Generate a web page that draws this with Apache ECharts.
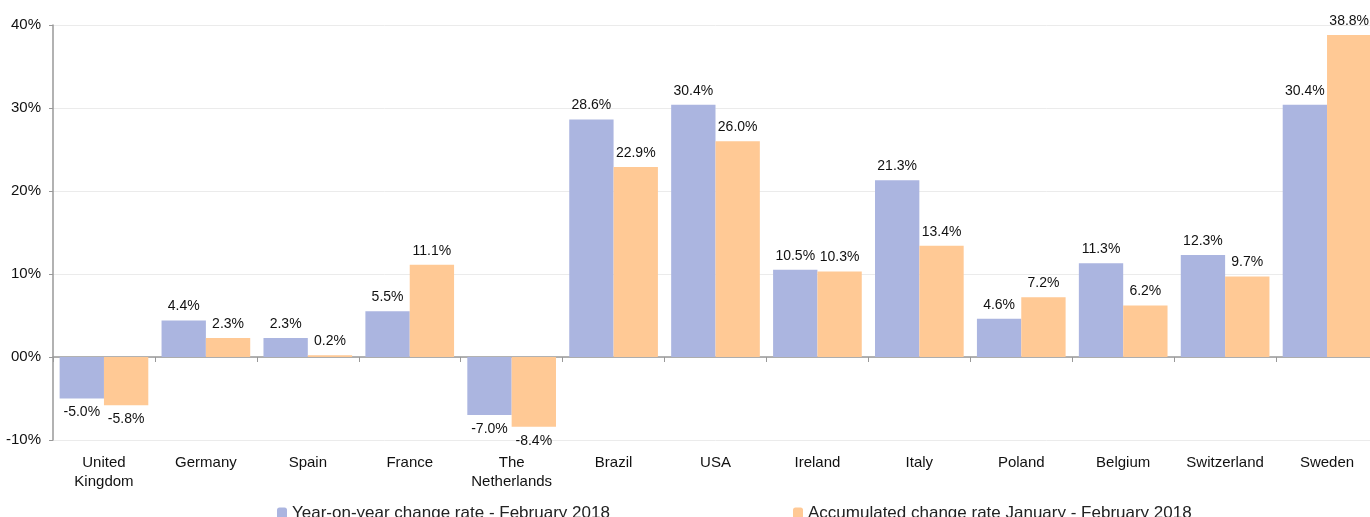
<!DOCTYPE html>
<html>
<head>
<meta charset="utf-8">
<script src="https://cdn.jsdelivr.net/npm/echarts@6/dist/echarts.min.js"></script>
<style>
html,body{margin:0;padding:0;background:#fff;overflow:hidden;}
#chart{width:1378px;height:517px;}
</style>
</head>
<body>
<div id="chart"></div>
<script>
var categories = ['United\nKingdom', 'Germany', 'Spain', 'France', 'The\nNetherlands', 'Brazil', 'USA', 'Ireland', 'Italy', 'Poland', 'Belgium', 'Switzerland', 'Sweden']
var yoyFeb = [-5.0, 4.4, 2.3, 5.5, -7.0, 28.6, 30.4, 10.5, 21.3, 4.6, 11.3, 12.3, 30.4]
var accJanFeb = [-5.8, 2.3, 0.2, 11.1, -8.4, 22.9, 26.0, 10.3, 13.4, 7.2, 6.2, 9.7, 38.8]
var yoyName = 'Year-on-year change rate - February 2018'
var accName = 'Accumulated change rate January - February 2018'

function withLabels(arr) {
    return arr.map(function (v) {
        return { value: v, label: { position: v < 0 ? 'bottom' : 'top' } }
    })
}

var chart = echarts.init(document.getElementById('chart'))
chart.setOption({
    animation: false,
    textStyle: { fontFamily: 'Liberation Sans, Arial, sans-serif' },
    grid: { left: 53, right: 0, top: 25, bottom: 77, containLabel: false },
    legend: [
        {
            data: [yoyName], left: 272, top: 500, itemWidth: 10, itemHeight: 12, itemGap: 0,
            textStyle: { fontSize: 17, color: '#222', padding: [0, 0, 0, 0] }
        },
        {
            data: [accName], left: 788, top: 500, itemWidth: 10, itemHeight: 12, itemGap: 0,
            textStyle: { fontSize: 17, color: '#222', padding: [0, 0, 0, 0] }
        }
    ],
    xAxis: [
        {
            type: 'category',
            data: categories,
            axisLine: { onZero: true, lineStyle: { color: '#999', width: 1.5 } },
            axisTick: { show: true, inside: false, length: 5, lineStyle: { color: '#999' } },
            axisLabel: { show: false }
        },
        {
            type: 'category',
            data: categories,
            position: 'bottom',
            axisLine: { show: false, onZero: false },
            axisTick: { show: false },
            axisLabel: { interval: 0, fontSize: 15, color: '#111', margin: 13, lineHeight: 19 }
        }
    ],
    yAxis: {
        type: 'value',
        min: -10, max: 40, interval: 10,
        axisLine: { show: true, lineStyle: { color: '#999', width: 1.5 } },
        axisTick: { show: true, length: 4, lineStyle: { color: '#999' } },
        splitLine: { lineStyle: { color: '#ebebeb' } },
        axisLabel: {
            fontSize: 15, color: '#111', margin: 12,
            formatter: function (v) { return v === 0 ? '00%' : v + '%' }
        }
    },
    series: [
        {
            name: yoyName, type: 'bar', xAxisIndex: 0,
            data: withLabels(yoyFeb),
            barGap: '0%', barCategoryGap: '13%',
            itemStyle: { color: '#abb5e0' },
            label: {
                show: true, fontSize: 14, color: '#111', distance: 7,
                formatter: function (p) { return p.value.toFixed(1) + '%' }
            }
        },
        {
            name: accName, type: 'bar', xAxisIndex: 0,
            data: withLabels(accJanFeb),
            barGap: '0%', barCategoryGap: '13%',
            itemStyle: { color: '#ffc995' },
            label: {
                show: true, fontSize: 14, color: '#111', distance: 7,
                formatter: function (p) { return p.value.toFixed(1) + '%' }
            }
        }
    ]
})
</script>
</body>
</html>
